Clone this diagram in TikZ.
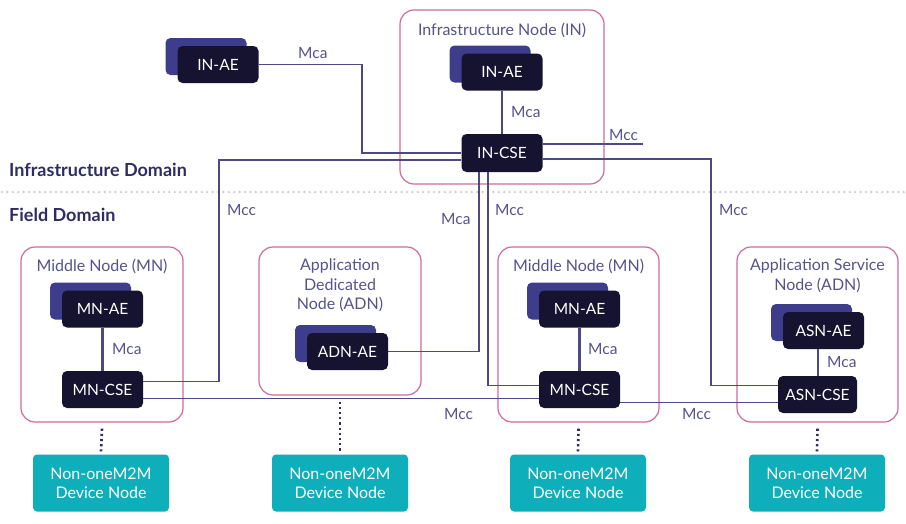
\documentclass[tikz,border=0pt]{standalone}
\usepackage{fontspec}
\setmainfont{Lato}
\usetikzlibrary{shadows,calc}
\definecolor{darkc}{HTML}{15132F}
\definecolor{shadc}{HTML}{3E3D8C}
\definecolor{linec}{HTML}{4E4985}
\definecolor{pinkc}{HTML}{CF6A9C}
\definecolor{labc}{HTML}{55538E}
\definecolor{domc}{HTML}{2E2C63}
\definecolor{tealc}{HTML}{0EAFBA}
\definecolor{dotgray}{HTML}{C9C9C9}
\tikzset{
  dk/.style={fill=darkc, text=white, rounded corners=5pt, minimum width=81pt, minimum height=37pt, inner sep=0pt, font=\fontsize{15.5}{17}\selectfont},
  dksh/.style={dk, copy shadow={shadow xshift=-12pt, shadow yshift=8pt, fill=shadc, draw=none}},
  pinkbox/.style={draw=pinkc, line width=1.2pt, rounded corners=14pt, inner sep=0pt},
  ttl/.style={text=labc, font=\fontsize{16}{19.5}\selectfont, align=center, inner sep=0pt},
  lab/.style={text=labc, font=\fontsize{15.5}{17}\selectfont, inner sep=0pt, anchor=west},
  dom/.style={text=domc, font=\fontsize{18}{20}\selectfont\bfseries, inner sep=0pt, anchor=west},
  conn/.style={draw=linec, line width=1.5pt},
  mcaconn/.style={draw=linec, line width=2.2pt},
  devbox/.style={fill=tealc, text=white, rounded corners=4pt, minimum width=136pt, minimum height=57pt, inner sep=0pt, align=center, font=\fontsize{16}{19}\selectfont},
  vdots/.style={draw=domc, line width=2.6pt, dash pattern=on 2.2pt off 3pt}
}
\begin{document}
\begin{tikzpicture}[x=1pt,y=-1pt]
\useasboundingbox (0,0) rectangle (906,523);
\fill[white] (0,0) rectangle (906,523);

% domain separator
\draw[dotgray, line width=2.4pt, line cap=round, dash pattern=on 0pt off 5.4pt] (2,192) -- (906,192);
\node[dom] (infdom) at (9,170) {Infrastructure Domain};
\node[dom] (fielddom) at (9,215) {Field Domain};

% containers
\node[pinkbox, minimum width=204pt, minimum height=174pt] (inbox) at (502,97) {};
\node[ttl] (intitle) at (502,30) {Infrastructure Node (IN)};
\node[pinkbox, minimum width=162pt, minimum height=175pt] (mnbox1) at (102,334.5) {};
\node[ttl] (mntitle1) at (102,266) {Middle Node (MN)};
\node[pinkbox, minimum width=162pt, minimum height=148pt] (adnbox) at (340,321) {};
\node[ttl, anchor=north] (adntitle) at (340,259) {Application\\Dedicated\\Node (ADN)};
\node[pinkbox, minimum width=161pt, minimum height=175pt] (mnbox2) at (578.5,334.5) {};
\node[ttl] (mntitle2) at (578.5,266) {Middle Node (MN)};
\node[pinkbox, minimum width=161pt, minimum height=175pt] (asnbox) at (817.5,334.5) {};
\node[ttl, anchor=north] (asntitle) at (817.5,259) {Application Service\\Node (ADN)};

% component nodes
\coordinate (mccend) at (643,144);
\coordinate (inaeturn) at (362,64.5);
\node[dksh] (inae1) at (218,64.5) {IN-AE};
\node[dksh] (inae2) at (502,72) {IN-AE};
\node[dk, minimum height=38pt] (incse) at (502,153) {IN-CSE};
\node[dksh] (mnae1) at (102.5,309) {MN-AE};
\node[dk] (mncse1) at (102.5,389.5) {MN-CSE};
\node[dksh] (adnae) at (347.5,351.5) {ADN-AE};
\node[dksh] (mnae2) at (579.5,309) {MN-AE};
\node[dk] (mncse2) at (579.5,389.5) {MN-CSE};
\node[dksh] (asnae) at (823.5,330.5) {ASN-AE};
\node[dk, minimum width=79pt] (asncse) at (817.5,394.5) {ASN-CSE};

% connectors
\draw[conn] (inae1.east) -- (inaeturn) |- (incse.west);
\draw[mcaconn] (inae2.south) -- (incse.north);
\draw[conn] ([yshift=9pt]incse.east) -- (mccend);
\draw[conn] ([yshift=-6pt]incse.east) -- (711,159) -- (711,385.5) -- ([yshift=9pt]asncse.west);
\draw[conn] ([yshift=-7pt]incse.west) -- (219,160) -- (219,381.5) -- ([yshift=8pt]mncse1.east);
\draw[conn] ([xshift=-23pt]incse.south) -- (479,351.5) -- (adnae.east);
\draw[conn] ([xshift=-14pt]incse.south) -- (488,385.5) -- ([yshift=4pt]mncse2.west);
\draw[conn] ([yshift=-9pt]mncse1.east) -- ([yshift=-9pt]mncse2.west);
\draw[conn] ([yshift=-13pt]mncse2.east) -- ([yshift=-8pt]asncse.west);
\draw[mcaconn] (mnae1.south) -- (mncse1.north);
\draw[mcaconn] (mnae2.south) -- (mncse2.north);
\draw[mcaconn] ([xshift=-5.5pt]asnae.south) -- ([xshift=0.5pt]asncse.north);

% labels
\node[lab] (l1) at (298,53) {Mca};
\node[lab] (l2) at (511,112) {Mca};
\node[lab] (l3) at (609,135) {Mcc};
\node[lab] (l4) at (227,210) {Mcc};
\node[lab] (l5) at (441,219) {Mca};
\node[lab] (l6) at (495,210) {Mcc};
\node[lab] (l7) at (719,210) {Mcc};
\node[lab] (l8) at (112,349) {Mca};
\node[lab] (l9) at (588,349) {Mca};
\node[lab] (l10) at (827,362) {Mca};
\node[lab] (l11) at (444,414) {Mcc};
\node[lab] (l12) at (682,414) {Mcc};

% device nodes
\node[devbox] (dev1) at (101,483) {Non-oneM2M\\Device Node};
\node[devbox] (dev2) at (340,483) {Non-oneM2M\\Device Node};
\node[devbox] (dev3) at (578,483) {Non-oneM2M\\Device Node};
\node[devbox] (dev4) at (817,483) {Non-oneM2M\\Device Node};
\draw[vdots] ([yshift=-6pt]mnbox1.south) -- ([yshift=3pt]dev1.north);
\draw[vdots] ([yshift=-6pt]adnbox.south) -- ([yshift=3pt]dev2.north);
\draw[vdots] ([yshift=-6pt]mnbox2.south) -- ([yshift=3pt]dev3.north);
\draw[vdots] ([yshift=-6pt]asnbox.south) -- ([yshift=3pt]dev4.north);
\end{tikzpicture}
\end{document}
